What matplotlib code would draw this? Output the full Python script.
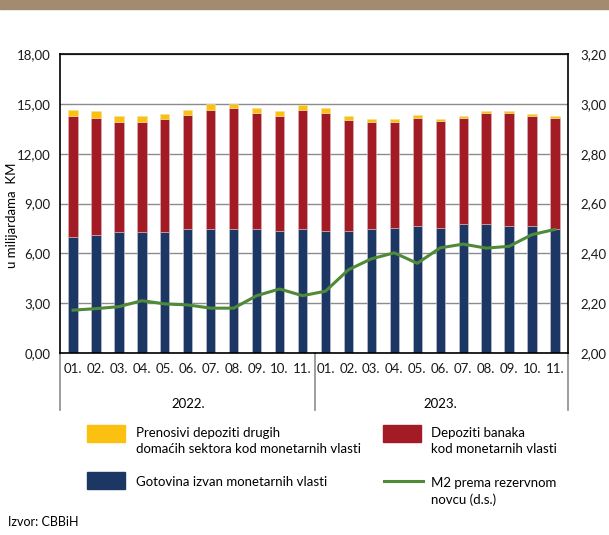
import numpy as np
import matplotlib.pyplot as plt
from matplotlib.patches import Rectangle
from matplotlib.lines import Line2D
from matplotlib.ticker import FuncFormatter
import matplotlib.transforms as mtransforms

plt.rcParams['font.family'] = ['Lato', 'DejaVu Sans']

# data (KM billions, stacked)
months = ['01.', '02.', '03.', '04.', '05.', '06.', '07.', '08.', '09.', '10.', '11.'] * 2
years = ['2022.', '2023.']
gotovina = [6.98, 7.08, 7.28, 7.28, 7.28, 7.46, 7.46, 7.46, 7.46, 7.36, 7.46,
            7.36, 7.36, 7.46, 7.54, 7.66, 7.54, 7.74, 7.74, 7.66, 7.66, 7.46]
depoziti_banaka = [7.26, 7.08, 6.60, 6.60, 6.78, 6.88, 7.18, 7.26, 7.00, 6.88, 7.18,
                   7.08, 6.68, 6.42, 6.34, 6.50, 6.44, 6.42, 6.70, 6.78, 6.58, 6.70]
prenosivi = [0.38, 0.40, 0.38, 0.38, 0.30, 0.28, 0.38, 0.30, 0.28, 0.30, 0.26,
             0.30, 0.22, 0.18, 0.18, 0.18, 0.10, 0.10, 0.10, 0.10, 0.14, 0.10]
m2_ratio = [2.172, 2.178, 2.186, 2.210, 2.197, 2.193, 2.180, 2.180, 2.230, 2.257, 2.230,
            2.248, 2.334, 2.378, 2.402, 2.360, 2.422, 2.437, 2.421, 2.428, 2.475, 2.496]

c_yellow = '#FCC010'
c_red = '#A31C25'
c_blue = '#1D3764'
c_green = '#4E8A37'
fs = 9.5

W, H = 609, 535
fig = plt.figure(figsize=(W / 100, H / 100), dpi=100)

# top banner
fig.patches.append(Rectangle((0, 1 - 9 / H), 1, 9 / H, transform=fig.transFigure,
                             color='#A38B70', zorder=0))

ax = fig.add_axes([60 / W, (H - 353) / H, 508 / W, 299 / H])
x = np.arange(len(gotovina))
bw = 0.4
g = np.array(gotovina)
r = np.array(depoziti_banaka)
p = np.array(prenosivi)
ax.bar(x, g, width=bw, color=c_blue, edgecolor='#c9c9d9', linewidth=0.4, zorder=2)
ax.bar(x, r, bottom=g, width=bw, color=c_red, edgecolor='#d9b9b9', linewidth=0.4, zorder=2)
ax.bar(x, p, bottom=g + r, width=bw, color=c_yellow, edgecolor='#f0e0a0', linewidth=0.4, zorder=2)

ax.set_xlim(-0.57, 21.57)
ax.set_ylim(0, 18)
ax.set_yticks(np.arange(0, 18.1, 3))
ax.yaxis.set_major_formatter(FuncFormatter(lambda v, _: f'{v:.2f}'.replace('.', ',')))
ax.grid(axis='y', color='#8c8c8c', linewidth=1.0, zorder=0)
ax.set_xticks(x)
ax.set_xticklabels(months)
ax.tick_params(axis='both', length=0, labelsize=fs, colors='#1a1a1a')
ax.tick_params(axis='x', pad=7)
ax.tick_params(axis='y', pad=7)
for s in ax.spines.values():
    s.set_color('black')
    s.set_linewidth(1.2)
ax.set_ylabel('u milijardama  KM', fontsize=fs)
ax.yaxis.set_label_coords(-42 / 508, 0.46)

ax2 = ax.twinx()
ax2.plot(x, m2_ratio, color=c_green, linewidth=2.2, zorder=3)
ax2.set_ylim(2.0, 3.2)
ax2.set_yticks(np.arange(2.0, 3.21, 0.2))
ax2.yaxis.set_major_formatter(FuncFormatter(lambda v, _: f'{v:.2f}'.replace('.', ',')))
ax2.tick_params(axis='y', length=0, labelsize=fs, pad=9, colors='#1a1a1a')
for s in ax2.spines.values():
    s.set_visible(False)

# year separators and labels below axis
tr = mtransforms.blended_transform_factory(ax.transData, ax.transAxes)
for xv in [-0.57, 10.55, 21.57]:
    ax.add_line(Line2D([xv, xv], [0, -57 / 299], transform=tr, color='#8c8c8c',
                       linewidth=1.2, clip_on=False))
ax.text(5, -51 / 299, years[0], transform=tr, ha='center', va='center', fontsize=fs)
ax.text(16, -51 / 299, years[1], transform=tr, ha='center', va='center', fontsize=fs)

# legend
def fy(py):
    return 1 - py / H

fig.patches.append(Rectangle((87 / W, fy(442)), 38 / W, 17 / H, transform=fig.transFigure, color=c_yellow))
fig.text(136 / W, fy(433), 'Prenosivi depoziti drugih', fontsize=fs, va='center')
fig.text(136 / W, fy(449), 'domaćih sektora kod monetarnih vlasti', fontsize=fs, va='center')
fig.patches.append(Rectangle((87 / W, fy(489)), 38 / W, 17 / H, transform=fig.transFigure, color=c_blue))
fig.text(136 / W, fy(482), 'Gotovina izvan monetarnih vlasti', fontsize=fs, va='center')
fig.patches.append(Rectangle((383 / W, fy(442)), 38 / W, 17 / H, transform=fig.transFigure, color=c_red))
fig.text(431 / W, fy(433), 'Depoziti banaka', fontsize=fs, va='center')
fig.text(431 / W, fy(449), 'kod monetarnih vlasti', fontsize=fs, va='center')
fig.lines.append(Line2D([384 / W, 423 / W], [fy(481), fy(481)], transform=fig.transFigure,
                        color=c_green, linewidth=2.2))
fig.text(431 / W, fy(483), 'M2 prema rezervnom', fontsize=fs, va='center')
fig.text(431 / W, fy(500), 'novcu (d.s.)', fontsize=fs, va='center')

fig.text(8 / W, fy(522), 'Izvor: CBBiH', fontsize=9, va='center')

fig.savefig('out.png', dpi=100)
